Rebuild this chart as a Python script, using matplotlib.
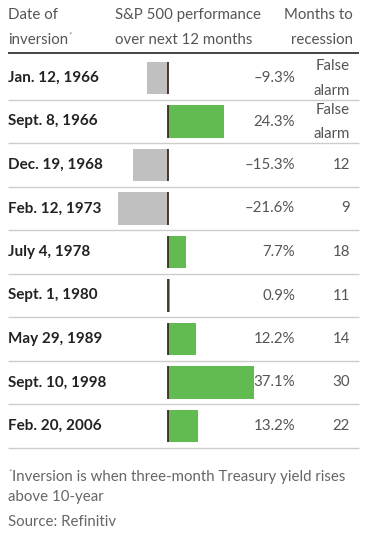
import matplotlib.pyplot as plt

dates = ['Jan. 12, 1966', 'Sept. 8, 1966', 'Dec. 19, 1968', 'Feb. 12, 1973',
         'July 4, 1978', 'Sept. 1, 1980', 'May 29, 1989', 'Sept. 10, 1998',
         'Feb. 20, 2006']
perf = [-9.3, 24.3, -15.3, -21.6, 7.7, 0.9, 12.2, 37.1, 13.2]
months = ['False\nalarm', 'False\nalarm', '12', '9', '18', '11', '14', '30', '22']

W, H = 367, 537
fig = plt.figure(figsize=(W / 100, H / 100), dpi=100)
plt.rcParams['font.family'] = ['Lato', 'DejaVu Sans']

# full-figure axes in pixel units for text and rules
bg = fig.add_axes([0, 0, 1, 1])
bg.set_xlim(0, W)
bg.set_ylim(H, 0)
bg.axis('off')

row0, step = 78, 43.5
n = len(dates)

# bar axes: x in percent, y in row index
zero_px, px_per = 168, 2.31
left_px, right_px = 100, 270
top_px, bot_px = row0 - step / 2, row0 + step * (n - 0.5)
ax = fig.add_axes([left_px / W, 1 - bot_px / H, (right_px - left_px) / W, (bot_px - top_px) / H])
ax.set_xlim((left_px - zero_px) / px_per, (right_px - zero_px) / px_per)
ax.set_ylim(n - 0.5, -0.5)
ax.axis('off')
ax.patch.set_alpha(0)
cols = ['#62bb50' if v > 0 else '#c0c0c0' for v in perf]
ax.barh(range(n), perf, height=0.75, color=cols)
for i in range(n):
    ax.vlines(0, i - 0.375, i + 0.375, color='#3b2b22', lw=1.3)

hdr = '#555555'
fs = 10.8
bg.text(8, 15, 'Date of', fontsize=fs, color=hdr, va='center')
bg.text(8, 40, 'inversion', fontsize=fs, color=hdr, va='center')
bg.text(68, 35, '*', fontsize=6, color='#888888', va='center')
bg.text(115, 15, 'S&P 500 performance', fontsize=fs, color=hdr, va='center')
bg.text(115, 40, 'over next 12 months', fontsize=fs, color=hdr, va='center')
bg.text(353, 15, 'Months to', fontsize=fs, color=hdr, va='center', ha='right')
bg.text(353, 40, 'recession', fontsize=fs, color=hdr, va='center', ha='right')
bg.hlines(53, 8, 359, color='#444444', lw=1.4)

for i in range(n):
    y = row0 + step * i
    bg.text(8, y, dates[i], fontsize=11, color='#222222', va='center', fontweight='bold')
    s = ('%.1f%%' % perf[i]).replace('-', '\u2013')
    bg.text(295, y, s, fontsize=fs, color='#555555', va='center', ha='right')
    m = months[i].split('\n')
    if len(m) == 2:
        bg.text(350, y - 12, m[0], fontsize=fs, color='#555555', va='center', ha='right')
        bg.text(350, y + 13, m[1], fontsize=fs, color='#555555', va='center', ha='right')
    else:
        bg.text(350, y, m[0], fontsize=fs, color='#555555', va='center', ha='right')
    bg.hlines(y + step / 2, 8, 359, color='#cccccc', lw=1.0)

fn = '#666666'
bg.text(8, 472, '*', fontsize=6, color='#888888', va='center')
bg.text(12, 477, 'Inversion is when three-month Treasury yield rises', fontsize=10.8, color=fn, va='center')
bg.text(8, 497, 'above 10-year', fontsize=10.8, color=fn, va='center')
bg.text(8, 522, 'Source: Refinitiv', fontsize=10.8, color=fn, va='center')

fig.savefig('out.png', dpi=100)
